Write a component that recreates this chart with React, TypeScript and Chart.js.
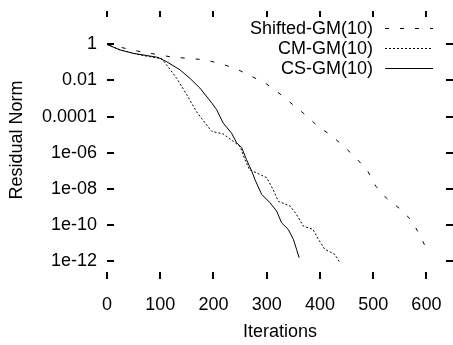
import React, { useEffect, useRef } from "react";
import { Chart, registerables } from "chart.js";

Chart.register(...registerables);

// ---- data ----
const shiftedIter = [0, 62, 121.5, 184, 215, 243.6, 271.7, 300, 325, 349, 375, 396, 422, 445, 469, 490, 505, 526, 550, 572, 588, 602, 606];
const shiftedRes = [1, 0.4, 0.2, 0.14, 0.083, 0.043, 0.017, 6.3e-3, 1.8e-3, 4.6e-4, 1.1e-4, 2.9e-5, 8.7e-6, 2.2e-6, 4.7e-7, 9.3e-8, 1.4e-8, 2.8e-9, 7.9e-10, 1.8e-10, 2.6e-11, 3.5e-12, 2.5e-12];

const cmIter = [0, 24, 62, 103, 112, 131, 150, 168, 184, 197, 218, 237, 250, 259, 268, 281, 300, 312, 322, 344, 356, 369, 387, 397, 409, 428, 437.5];
const cmRes = [1, 0.5, 0.26, 0.16, 0.074, 0.013, 1.6e-3, 1.9e-4, 4.5e-5, 1.5e-5, 1.1e-5, 4.3e-6, 2.2e-6, 4.2e-7, 1.1e-7, 7.6e-8, 4.1e-8, 9.1e-9, 2.0e-9, 1.1e-9, 3.8e-10, 8.5e-11, 5.6e-11, 1.6e-11, 4.5e-12, 2.3e-12, 8.1e-13];

const csIter = [0, 24, 49, 75, 96, 112, 137, 156, 174.5, 197, 206, 218, 234, 243.6, 253, 262, 272, 278, 290.5, 306, 318.7, 328, 340.5, 350, 356, 361];
const csRes = [1, 0.5, 0.32, 0.24, 0.19, 0.11, 0.039, 0.013, 3.8e-3, 5.6e-4, 2.4e-4, 4.5e-5, 1.2e-5, 3.5e-6, 1.9e-6, 4.2e-7, 9.3e-8, 3.2e-8, 4.9e-9, 1.7e-9, 5.8e-10, 1.3e-10, 5.6e-11, 1.6e-11, 4.5e-12, 1.5e-12];

const seriesNames = ["Shifted-GM(10)", "CM-GM(10)", "CS-GM(10)"];

const xTickValues = [0, 100, 200, 300, 400, 500, 600];
const xTickLabels = ["0", "100", "200", "300", "400", "500", "600"];
const yTickValues = [1e-12, 1e-10, 1e-8, 1e-6, 1e-4, 1e-2, 1];
const yTickLabels = ["1e-12", "1e-10", "1e-08", "1e-06", "0.0001", "0.01", "1"];

const xTitle = "Iterations";
const yTitle = "Residual Norm";

const FONT_FAMILY = "'Liberation Sans', Arial, sans-serif";
const FONT_SIZE = 18;

const toPoints = (xs: number[], ys: number[]) => xs.map((x, i) => ({ x, y: ys[i] }));

const ticksPlugin = {
  id: "gnuTicks",
  afterDraw(chart: any) {
    const { ctx, chartArea } = chart;
    const xs = chart.scales.x;
    const ys = chart.scales.y;
    const L = 7;
    ctx.save();
    ctx.strokeStyle = "#000";
    ctx.lineWidth = 2;
    ctx.beginPath();
    for (const v of xTickValues) {
      const px = Math.round(xs.getPixelForValue(v));
      ctx.moveTo(px, chartArea.bottom);
      ctx.lineTo(px, chartArea.bottom - L);
      ctx.moveTo(px, chartArea.top);
      ctx.lineTo(px, chartArea.top + L - 1);
    }
    for (const v of yTickValues) {
      const py = Math.round(ys.getPixelForValue(v));
      ctx.moveTo(chartArea.left, py);
      ctx.lineTo(chartArea.left + L, py);
      ctx.moveTo(chartArea.right, py);
      ctx.lineTo(chartArea.right - L, py);
    }
    ctx.stroke();

    // axis titles
    ctx.fillStyle = "#000";
    ctx.font = `${FONT_SIZE}px ${FONT_FAMILY}`;
    ctx.textAlign = "center";
    ctx.textBaseline = "middle";
    ctx.fillText(xTitle, (chartArea.left + chartArea.right) / 2, 332);
    ctx.save();
    ctx.translate(17, 140);
    ctx.rotate(-Math.PI / 2);
    ctx.fillText(yTitle, 0, 0);
    ctx.restore();

    // legend
    const rows = [28, 48, 68];
    chart.data.datasets.forEach((ds: any, i: number) => {
      const y = rows[i];
      ctx.textAlign = "right";
      ctx.textBaseline = "middle";
      ctx.fillText(ds.label, 373, y + 1);
      ctx.save();
      ctx.lineWidth = 1;
      ctx.setLineDash(ds.borderDash || []);
      ctx.beginPath();
      ctx.moveTo(385, y + 0.5);
      ctx.lineTo(433, y + 0.5);
      ctx.stroke();
      ctx.restore();
    });
    ctx.restore();
  },
};

export default function App() {
  const ref = useRef<HTMLCanvasElement | null>(null);

  useEffect(() => {
    document.body.style.margin = "0";
    if (!ref.current) return;
    const font = { family: FONT_FAMILY, size: FONT_SIZE };
    const chart = new Chart(ref.current, {
      type: "line",
      data: {
        datasets: [
          {
            label: seriesNames[0],
            data: toPoints(shiftedIter, shiftedRes),
            borderColor: "#000",
            borderWidth: 1,
            borderDash: [4, 11],
            pointRadius: 0,
            tension: 0,
          },
          {
            label: seriesNames[1],
            data: toPoints(cmIter, cmRes),
            borderColor: "#000",
            borderWidth: 1,
            borderDash: [2, 2],
            pointRadius: 0,
            tension: 0,
          },
          {
            label: seriesNames[2],
            data: toPoints(csIter, csRes),
            borderColor: "#000",
            borderWidth: 1,
            pointRadius: 0,
            tension: 0,
          },
        ],
      },
      options: {
        responsive: false,
        animation: false,
        devicePixelRatio: 1,
        layout: { padding: { top: 11, right: 0, left: 0, bottom: 0 } },
        plugins: { legend: { display: false }, tooltip: { enabled: false }, title: { display: false } },
        scales: {
          x: {
            type: "linear",
            min: 0,
            max: 650,
            afterBuildTicks: (s: any) => {
              s.ticks = xTickValues.map((v) => ({ value: v }));
            },
            afterFit: (s: any) => {
              s.height = 66;
              s.paddingLeft = 0;
              s.paddingRight = 0;
              s.paddingTop = 0;
              s.paddingBottom = 0;
            },
            ticks: {
              callback: (_v: any, i: number) => xTickLabels[i],
              font,
              color: "#000",
              padding: 15,
              maxRotation: 0,
              autoSkip: false,
            },
            grid: { display: false, drawTicks: false },
            border: { display: false },
          },
          y: {
            type: "logarithmic",
            min: 1e-13,
            max: Math.pow(10, 1.85),
            afterBuildTicks: (s: any) => {
              s.ticks = yTickValues.map((v) => ({ value: v }));
            },
            afterFit: (s: any) => {
              s.width = 107;
              s.paddingLeft = 0;
              s.paddingRight = 0;
              s.paddingTop = 0;
              s.paddingBottom = 0;
            },
            ticks: {
              callback: (_v: any, i: number) => yTickLabels[i],
              font,
              color: "#000",
              padding: 10,
              autoSkip: false,
            },
            grid: { display: false, drawTicks: false },
            border: { display: false },
          },
        },
      },
      plugins: [ticksPlugin],
    });
    return () => chart.destroy();
  }, []);

  return (
    <div style={{ width: 453, height: 345 }}>
      <canvas ref={ref} width={453} height={345} style={{ display: "block" }} />
    </div>
  );
}
